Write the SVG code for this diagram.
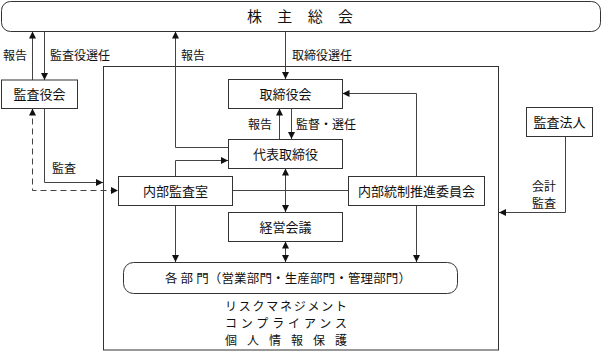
<svg xmlns="http://www.w3.org/2000/svg" width="603" height="352" viewBox="0 0 603 352">
<defs>
<marker id="ah" viewBox="0 0 10 10" refX="10" refY="5" markerWidth="7" markerHeight="7" markerUnits="userSpaceOnUse" orient="auto-start-reverse">
<path d="M0,0 L10,5 L0,10 z" fill="#111"/>
</marker>
<style>
.box{fill:#fff;stroke:#333;stroke-width:1}
.ln{fill:none;stroke:#444;stroke-width:1}
.dash{stroke-dasharray:6 4}
text{font-family:"Noto Sans CJK JP","Noto Sans CJK SC",sans-serif;fill:#111}
.n{font-size:13px;text-anchor:middle}
.l{font-size:12px}
</style>
</defs>
<rect width="603" height="352" fill="#fff"/>
<g id="main-frame"><rect class="box" x="103.5" y="66.5" width="395" height="283.5"/></g>
<g id="connectors">
<path class="ln" d="M32.5,80 V31.5" marker-end="url(#ah)"/>
<path class="ln" d="M44.5,31.5 V80" marker-end="url(#ah)"/>
<path class="ln" d="M228,147.5 H175.5 V31.5" marker-end="url(#ah)"/>
<path class="ln" d="M285.5,31.5 V79" marker-end="url(#ah)"/>
<path class="ln" d="M279.5,139 V108.5" marker-end="url(#ah)"/>
<path class="ln" d="M291.5,108.5 V139" marker-end="url(#ah)"/>
<path class="ln" d="M416.5,176 V93.5 H342.5" marker-end="url(#ah)"/>
<path class="ln" d="M44.5,108.5 V182.5 H103" marker-end="url(#ah)"/>
<path class="ln dash" d="M32.5,108.5 V190.5 H118" marker-start="url(#ah)" marker-end="url(#ah)"/>
<path class="ln" d="M175.5,176 V160.5 H228" marker-end="url(#ah)"/>
<path class="ln" d="M232,190.5 H348"/>
<path class="ln" d="M285.5,168.5 V212" marker-start="url(#ah)" marker-end="url(#ah)"/>
<path class="ln" d="M285.5,241.5 V262" marker-start="url(#ah)" marker-end="url(#ah)"/>
<path class="ln" d="M175.5,205.5 V262" marker-end="url(#ah)"/>
<path class="ln" d="M416.5,205.5 V262" marker-end="url(#ah)"/>
<path class="ln" d="M565.5,136.5 V212.5 H499" marker-end="url(#ah)"/>
</g>
<g id="labels">
<text class="l" x="3" y="59.5">報告</text>
<text class="l" x="50" y="59.5">監査役選任</text>
<text class="l" x="181" y="59.5">報告</text>
<text class="l" x="292" y="59.5">取締役選任</text>
<text class="l" x="248" y="128.5">報告</text>
<text class="l" x="296" y="128.5">監督・選任</text>
<text class="l" x="52" y="172.5">監査</text>
<text class="l" x="532" y="190.5">会計</text>
<text class="l" x="532" y="207.5">監査</text>
</g>
<g id="shareholders">
<rect class="box" x="1.5" y="1.5" width="599" height="30" rx="9"/>
<text x="247" y="21.5" style="font-size:15px" textLength="106" lengthAdjust="spacing">株主総会</text>
</g>
<g id="kansayakukai"><rect class="box" x="1.5" y="80" width="76" height="28.5"/><text class="n" x="39.5" y="99">監査役会</text></g>
<g id="torishimariyakukai"><rect class="box" x="228.5" y="79.5" width="114" height="29"/><text class="n" x="285.5" y="99">取締役会</text></g>
<g id="daihyo"><rect class="box" x="228.5" y="139.5" width="114" height="29"/><text class="n" x="285.5" y="159">代表取締役</text></g>
<g id="naibukansa"><rect class="box" x="118.5" y="176.5" width="114" height="29"/><text class="n" x="175.5" y="196">内部監査室</text></g>
<g id="naibutousei"><rect class="box" x="348.5" y="176.5" width="136" height="29"/><text class="n" x="416.5" y="196">内部統制推進委員会</text></g>
<g id="keiei"><rect class="box" x="228.5" y="212.5" width="114" height="29"/><text class="n" x="285.5" y="232">経営会議</text></g>
<g id="kansahoujin"><rect class="box" x="526.5" y="107.5" width="66" height="29"/><text class="n" x="559.5" y="127">監査法人</text></g>
<g id="kakubumon"><rect class="box" x="123.5" y="262.5" width="334" height="31" rx="10"/><text x="165" y="283" style="font-size:12.5px" textLength="246" lengthAdjust="spacing">各 部 門（営業部門・生産部門・管理部門）</text></g>
<g id="notes">
<text x="225" y="310.5" style="font-size:12px" textLength="122" lengthAdjust="spacing">リスクマネジメント</text>
<text x="225" y="327.5" style="font-size:12px" textLength="122" lengthAdjust="spacing">コンプライアンス</text>
<text x="225" y="344.5" style="font-size:12px" textLength="122" lengthAdjust="spacing">個人情報保護</text>
</g>
</svg>
